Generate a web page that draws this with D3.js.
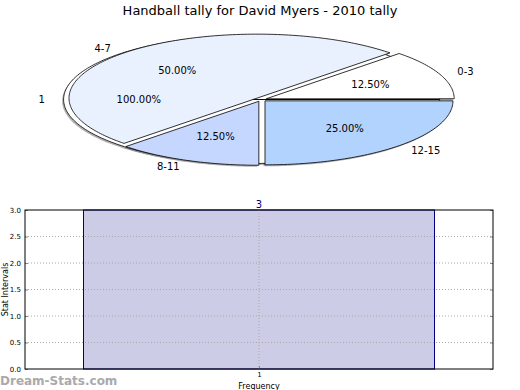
<!DOCTYPE html>
<html>
<head>
<meta charset="utf-8">
<script src="https://cdn.jsdelivr.net/npm/d3@7"></script>
<style>
    body { margin: 0; background: #fff; }
    svg { display: block; font-family: "DejaVu Sans", sans-serif; }
</style>
</head>
<body>
<script>
// Chart data
const TITLE = "Handball tally for David Myers - 2010 tally";
const pieLabels = [ "0-3", "4-7", "8-11", "12-15" ];
const pieValues = [ 1, 4, 1, 2 ];
const pieColors = [ "#ffffff", "#e9f0fe", "#c5d7fe", "#b3d3ff" ];
const backLabels = [ "1" ];
const backValues = [ 1 ];

const barCategories = [ 1 ];
const barValues = [ 3 ];
const yTicks = [ 0, 0.5, 1, 1.5, 2, 2.5, 3 ];

const WIDTH = 520, HEIGHT = 390;

const svg = d3.select("body").append("svg")
    .attr("width", WIDTH)
    .attr("height", HEIGHT);

svg.append("text")
    .attr("x", 260).attr("y", 15)
    .attr("text-anchor", "middle")
    .attr("font-size", 13)
    .text(TITLE);

// ---------- squashed pie ----------
const PIE = { cx: 261, cy: 99.5, rx: 188, ry: 64 };

// wedge path in unit circle space, scaled to the ellipse
function wedgePath(a0, a1, ox, oy) {
    const pts = [ [ ox, oy ] ];
    const n = Math.max(2, Math.ceil((a1 - a0) / 0.02));
    for (let i = 0; i <= n; i++) {
        const a = a0 + (a1 - a0) * i / n;
        pts.push([ ox + PIE.rx * Math.cos(a), oy - PIE.ry * Math.sin(a) ]);
    }
    return d3.line()(pts) + "Z";
}

function layoutPie(values, explode) {
    const total = d3.sum(values);
    let start = 0;
    return values.map((v, i) => {
        const a0 = start, a1 = start + 2 * Math.PI * v / total;
        start = a1;
        const mid = (a0 + a1) / 2;
        const ox = PIE.cx + explode * PIE.rx * Math.cos(mid);
        const oy = PIE.cy - explode * PIE.ry * Math.sin(mid);
        return { i, v, a0, a1, mid, ox, oy, pct: v / total };
    });
}

const backWedges = layoutPie(backValues, 0.05);
const frontWedges = layoutPie(pieValues, 0.03);

const pieG = svg.append("g");

// shadows
[ ...backWedges, ...frontWedges ].forEach(w => {
    pieG.append("path")
        .attr("d", wedgePath(w.a0, w.a1, w.ox - 1.5, w.oy + 1.5))
        .attr("fill", "#666")
        .attr("fill-opacity", 0.5);
});

backWedges.forEach(w => {
    pieG.append("path")
        .attr("d", wedgePath(w.a0, w.a1, w.ox, w.oy))
        .attr("fill", "#ffffff")
        .attr("stroke", "#000")
        .attr("stroke-width", 0.8);
});

frontWedges.forEach(w => {
    pieG.append("path")
        .attr("d", wedgePath(w.a0, w.a1, w.ox, w.oy))
        .attr("fill", pieColors[ w.i ])
        .attr("stroke", "#000")
        .attr("stroke-width", 0.8)
        .attr("stroke-linejoin", "miter");
});

function addPieLabels(wedges, labels) {
    wedges.forEach(w => {
        const c = Math.cos(w.mid), s = Math.sin(w.mid);
        pieG.append("text")
            .attr("x", w.ox + 1.1 * PIE.rx * c)
            .attr("y", w.oy - 1.1 * PIE.ry * s)
            .attr("dy", "0.35em")
            .attr("text-anchor", c > 0.01 ? "start" : (c < -0.01 ? "end" : "middle"))
            .attr("font-size", 10)
            .text(labels[ w.i ]);
        pieG.append("text")
            .attr("x", w.ox + 0.6 * PIE.rx * c)
            .attr("y", w.oy - 0.6 * PIE.ry * s)
            .attr("dy", "0.35em")
            .attr("text-anchor", "middle")
            .attr("font-size", 10)
            .text(d3.format(".2f")(w.pct * 100) + "%");
    });
}
addPieLabels(backWedges, backLabels);
addPieLabels(frontWedges, pieLabels);

// ---------- bar chart ----------
const plot = { left: 25, top: 210, right: 493, bottom: 369 };

const x = d3.scaleLinear().domain([ 0.5, 1.5 ]).range([ plot.left, plot.right ]);
const y = d3.scaleLinear().domain([ 0, 3 ]).range([ plot.bottom, plot.top ]);
const barWidth = 0.75;

const barG = svg.append("g");

barG.append("rect")
    .attr("x", plot.left).attr("y", plot.top)
    .attr("width", plot.right - plot.left)
    .attr("height", plot.bottom - plot.top)
    .attr("fill", "#fff");

barCategories.forEach((c, i) => {
    barG.append("rect")
        .attr("x", x(c - barWidth / 2))
        .attr("y", y(barValues[ i ]))
        .attr("width", x(c + barWidth / 2) - x(c - barWidth / 2))
        .attr("height", y(0) - y(barValues[ i ]))
        .attr("fill", "#ccccE6")
        .attr("stroke", "#000080")
        .attr("stroke-width", 1);
    barG.append("text")
        .attr("x", x(c))
        .attr("y", y(barValues[ i ]) - 2)
        .attr("text-anchor", "middle")
        .attr("font-size", 10)
        .attr("fill", "#000080")
        .text(barValues[ i ]);
});

// grid
barG.selectAll(".hgrid")
    .data(yTicks.slice(1, -1))
    .enter().append("line")
    .attr("x1", plot.left).attr("x2", plot.right)
    .attr("y1", d => y(d)).attr("y2", d => y(d))
    .attr("stroke", "#aaa")
    .attr("stroke-width", 1)
    .attr("stroke-dasharray", "1,2");

barG.selectAll(".vgrid")
    .data(barCategories)
    .enter().append("line")
    .attr("x1", d => x(d)).attr("x2", d => x(d))
    .attr("y1", plot.top).attr("y2", plot.bottom)
    .attr("stroke", "#aaa")
    .attr("stroke-width", 1)
    .attr("stroke-dasharray", "1,2");

// axes
const yAxis = d3.axisLeft(y).tickValues(yTicks).tickFormat(d3.format(".1f")).tickSize(-3).tickPadding(4);
const yAx = barG.append("g")
    .attr("transform", `translate(${plot.left},0)`)
    .call(yAxis);
yAx.select(".domain").remove();
yAx.selectAll("text").attr("font-size", 7).attr("font-family", "DejaVu Sans");
yAx.selectAll("line").attr("stroke", "#888");

const yRight = barG.append("g")
    .attr("transform", `translate(${plot.right},0)`)
    .call(d3.axisRight(y).tickValues(yTicks).tickSize(-3).tickFormat(""));
yRight.select(".domain").remove();
yRight.selectAll("line").attr("stroke", "#888");

const xAx = barG.append("g")
    .attr("transform", `translate(0,${plot.bottom})`)
    .call(d3.axisBottom(x).tickValues(barCategories).tickFormat(d3.format("d")).tickSize(-3).tickPadding(3));
xAx.select(".domain").remove();
xAx.selectAll("text").attr("font-size", 7).attr("font-family", "DejaVu Sans");
xAx.selectAll("line").attr("stroke", "#888");

barG.append("rect")
    .attr("x", plot.left).attr("y", plot.top)
    .attr("width", plot.right - plot.left)
    .attr("height", plot.bottom - plot.top)
    .attr("fill", "none")
    .attr("stroke", "#000")
    .attr("stroke-width", 1);

// axis titles sit at the very edge, as in the original, but kept readable
svg.append("text")
    .attr("transform", `translate(8,${(plot.top + plot.bottom) / 2}) rotate(-90)`)
    .attr("text-anchor", "middle")
    .attr("font-size", 8)
    .text("Stat Intervals");

svg.append("text")
    .attr("x", x(1)).attr("y", 388.5)
    .attr("text-anchor", "middle")
    .attr("font-size", 8)
    .text("Frequency");

svg.append("text")
    .attr("x", 0).attr("y", 385)
    .attr("font-size", 12)
    .attr("font-weight", "bold")
    .attr("fill", "#aaa")
    .text("Dream-Stats.com");
</script>
</body>
</html>
